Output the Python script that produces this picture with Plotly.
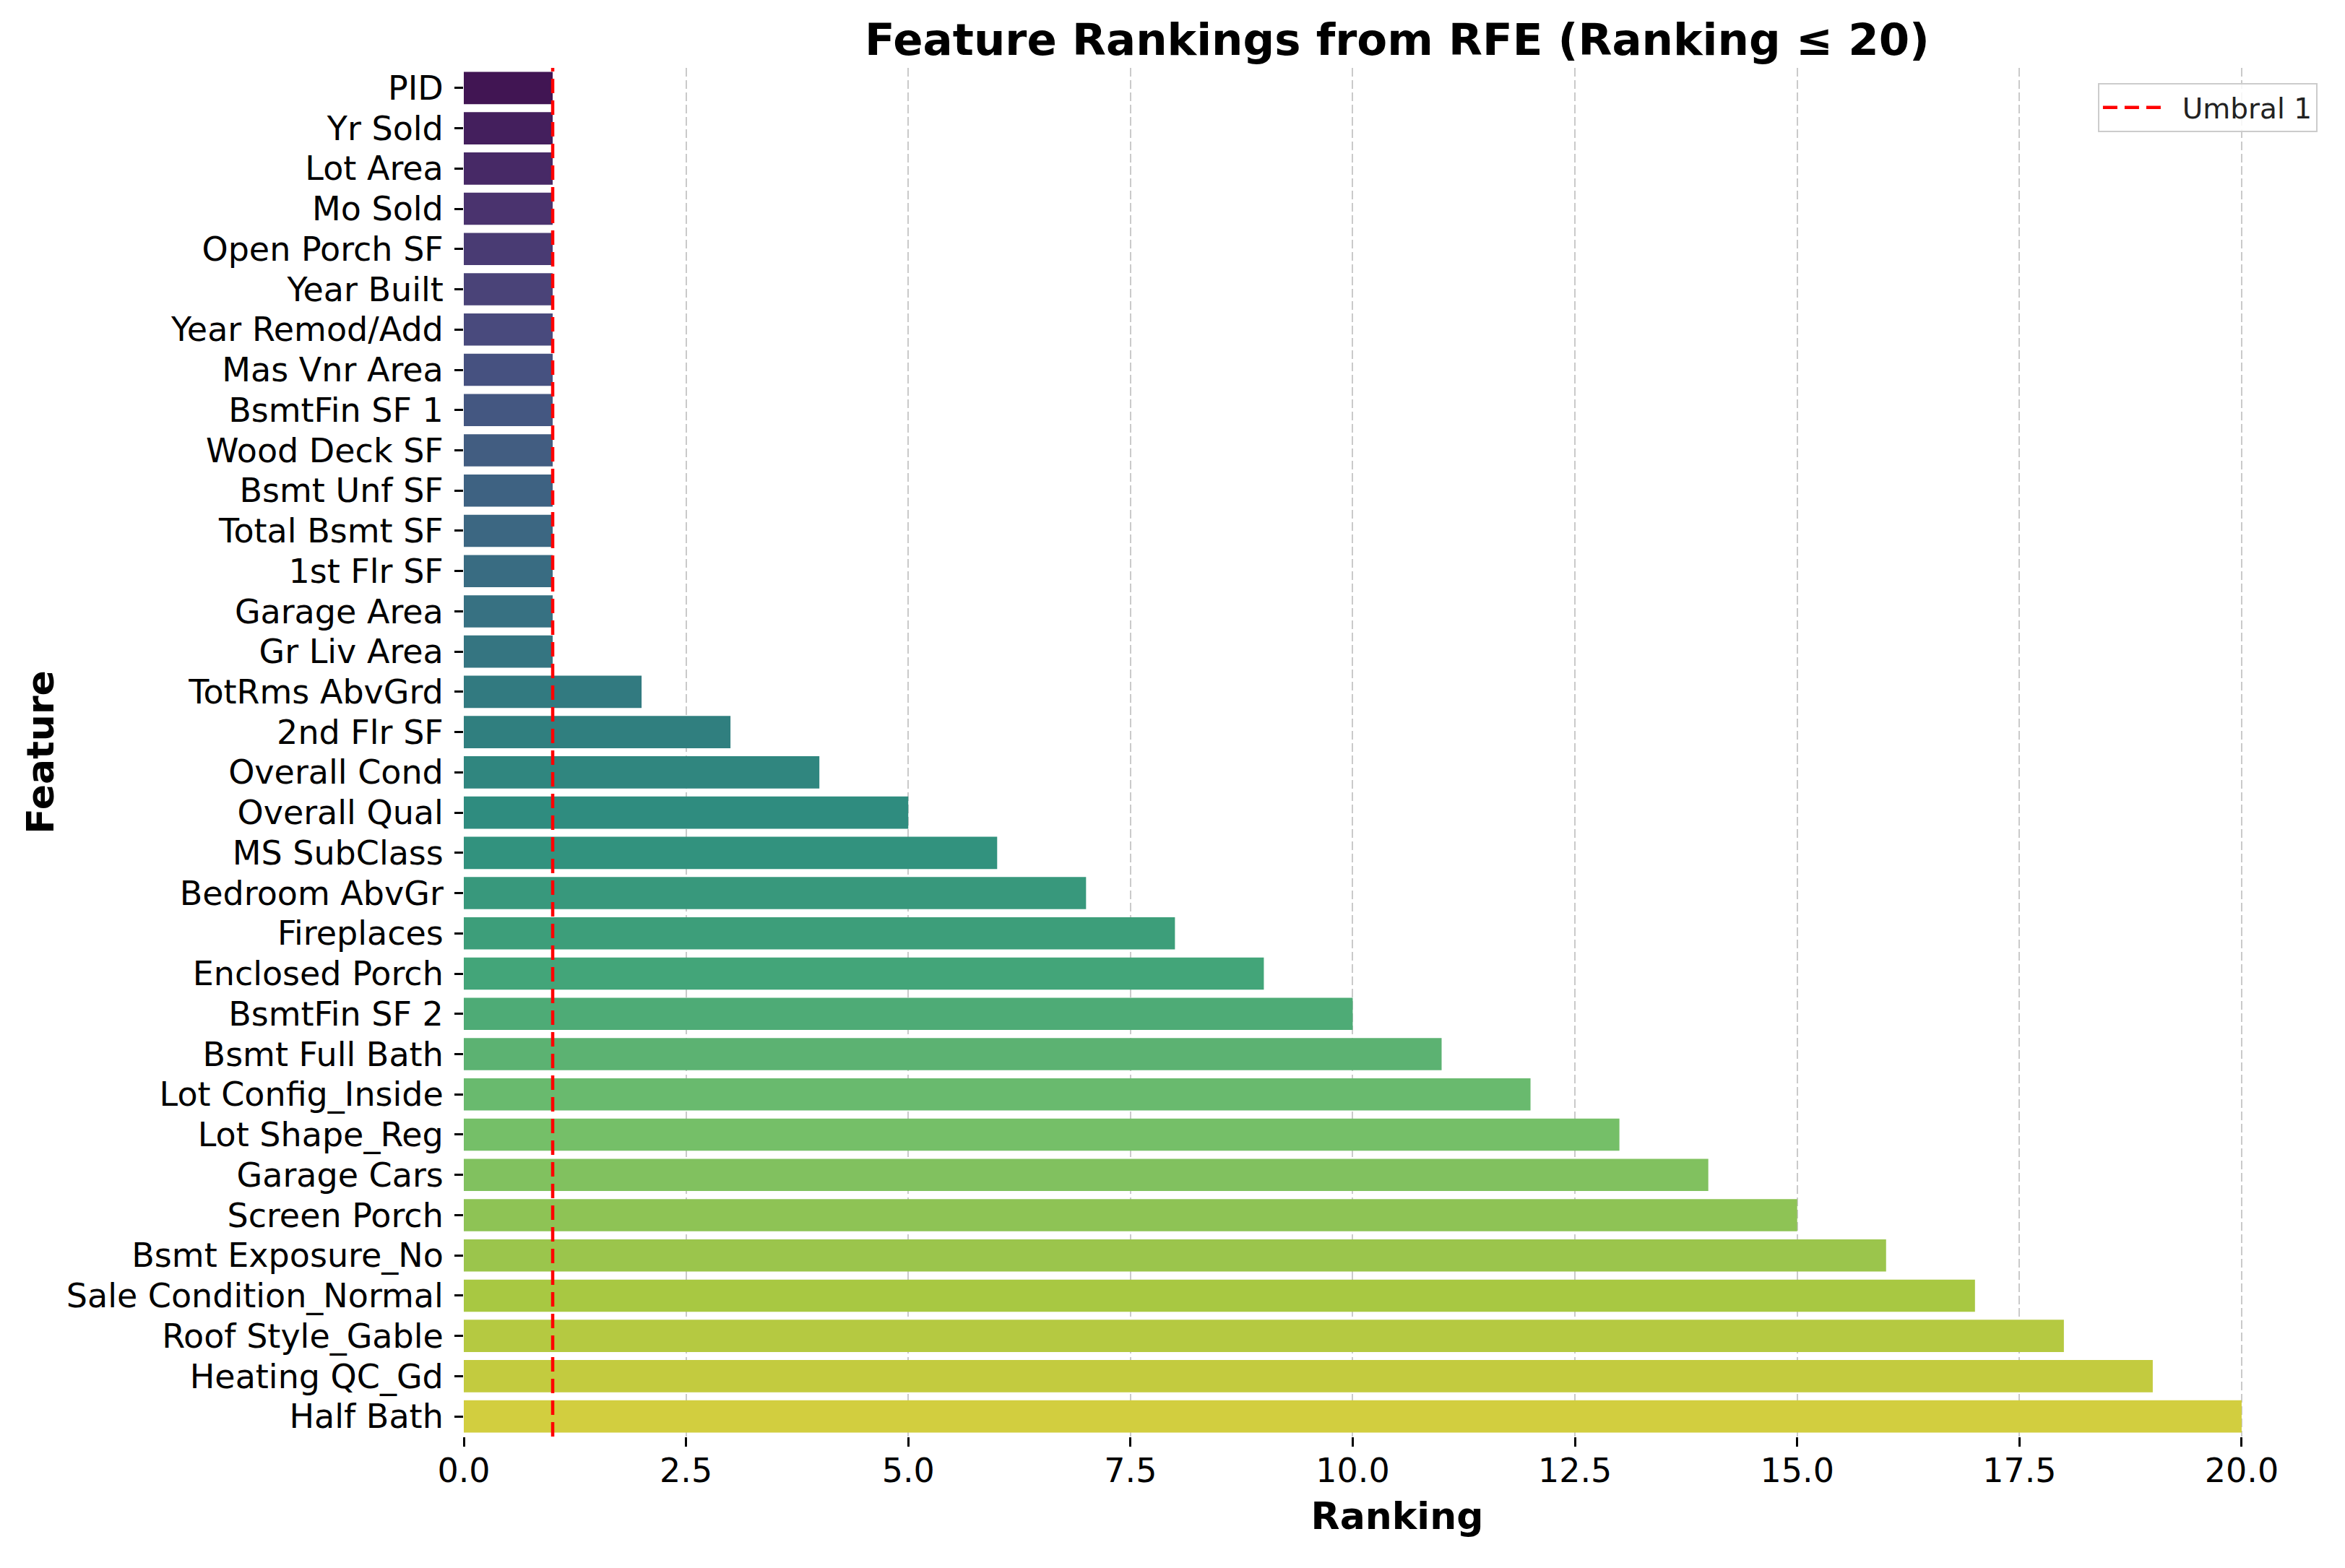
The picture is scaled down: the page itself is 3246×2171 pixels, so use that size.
import colorsys
import plotly.graph_objects as go
from plotly.colors import sample_colorscale, unlabel_rgb

features = ["PID", "Yr Sold", "Lot Area", "Mo Sold", "Open Porch SF", "Year Built",
            "Year Remod/Add", "Mas Vnr Area", "BsmtFin SF 1", "Wood Deck SF",
            "Bsmt Unf SF", "Total Bsmt SF", "1st Flr SF", "Garage Area", "Gr Liv Area",
            "TotRms AbvGrd", "2nd Flr SF", "Overall Cond", "Overall Qual", "MS SubClass",
            "Bedroom AbvGr", "Fireplaces", "Enclosed Porch", "BsmtFin SF 2",
            "Bsmt Full Bath", "Lot Config_Inside", "Lot Shape_Reg", "Garage Cars",
            "Screen Porch", "Bsmt Exposure_No", "Sale Condition_Normal",
            "Roof Style_Gable", "Heating QC_Gd", "Half Bath"]
rankings = [1, 1, 1, 1, 1, 1, 1, 1, 1, 1, 1, 1, 1, 1, 1,
            2, 3, 4, 5, 6, 7, 8, 9, 10, 11, 12, 13, 14, 15, 16, 17, 18, 19, 20]
threshold = 1
x_ticks = [0, 2.5, 5, 7.5, 10, 12.5, 15, 17.5, 20]
x_tick_labels = ["0.0", "2.5", "5.0", "7.5", "10.0", "12.5", "15.0", "17.5", "20.0"]

# seaborn-like viridis palette with 0.75 saturation
n = len(features)
pos = [(i + 1) / (n + 1) for i in range(n)]
raw = sample_colorscale("Viridis", pos)
colors = []
for c in raw:
    r, g, b = [v / 255 for v in unlabel_rgb(c)]
    h, l, s = colorsys.rgb_to_hls(r, g, b)
    r2, g2, b2 = colorsys.hls_to_rgb(h, l, s * 0.75)
    colors.append(f"rgb({round(r2*255)},{round(g2*255)},{round(b2*255)})")

FONT = "DejaVu Sans"

fig = go.Figure()
fig.add_trace(go.Bar(
    x=rankings, y=features, orientation="h",
    marker=dict(color=colors, line=dict(width=0)),
    showlegend=False,
))

fig.add_shape(
    type="line", xref="x", yref="paper",
    x0=threshold, x1=threshold, y0=0, y1=1,
    line=dict(color="red", width=4.5, dash="20px,10px"),
    showlegend=True, name="\u00a0\u00a0Umbral 1", layer="above",
)

fig.update_layout(
    width=3238, height=2163,
    margin=dict(l=634, r=20, t=86, b=182, autoexpand=False),
    paper_bgcolor="white", plot_bgcolor="white",
    font=dict(family=FONT, size=46, color="black"),
    bargap=0.2,
    title=dict(
        text="<b>Feature Rankings from RFE (Ranking ≤ 20)</b>",
        font=dict(family=FONT, size=61, color="black"),
        x=0.5, xref="paper", xanchor="center",
        y=1, yref="paper", yanchor="bottom", pad=dict(b=18),
        automargin=False,
    ),
    xaxis=dict(
        range=[0, 21], automargin=False,
        tickmode="array", tickvals=x_ticks, ticktext=x_tick_labels,
        ticks="outside", ticklen=13, tickwidth=2.5, tickcolor="black",
        showline=False, zeroline=False,
        showgrid=True, gridcolor="rgba(150,150,150,0.5)", gridwidth=2,
        griddash="12px,5px",
        layer="above traces",
        ticklabelstandoff=-6,
        tickfont=dict(family=FONT, size=46, color="black"),
        title=dict(text="<b>Ranking</b>", font=dict(family=FONT, size=52, color="black"),
                   standoff=18),
    ),
    yaxis=dict(
        range=[33.5, -0.5], automargin=False,
        ticks="outside", ticklen=12, tickwidth=2.5, tickcolor="black",
        showline=False, zeroline=False, showgrid=False,
        ticklabelstandoff=6,
        tickfont=dict(family=FONT, size=46, color="black"),
        title=dict(text="<b>Feature</b>", font=dict(family=FONT, size=52, color="black"),
                   standoff=0),
    ),
    legend=dict(
        x=0.993, xanchor="right", y=0.989, yanchor="top",
        xref="paper", yref="paper",
        bgcolor="rgba(255,255,255,0.85)", bordercolor="#cccccc", borderwidth=2,
        font=dict(family=FONT, size=39, color="#222222"),
        itemwidth=80,
    ),
)

fig.write_html("out.html")
